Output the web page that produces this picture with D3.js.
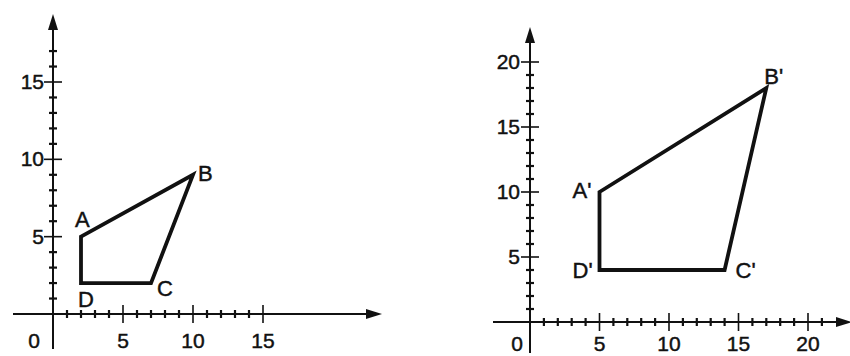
<!DOCTYPE html>
<html lang="en">
<head>
    <meta charset="UTF-8" />
    <title>Quadrilateral ABCD and its image A'B'C'D'</title>
    <script src="https://d3js.org/d3.v7.min.js"></script>
    <style>
        body { margin: 0; background: #fff; }
        svg { display: block; }
        text { font-family: "Liberation Sans", Arial, sans-serif; fill: #111; stroke: #111; stroke-width: 0.45; }
    </style>
</head>
<body>
<script>
    var w = 850;
    var h = 356;

    // Data: the original quadrilateral and its image
    var leftNames = ["A", "B", "C", "D"];
    var leftX = [2, 10, 7, 2];
    var leftY = [5, 9, 2, 2];

    var rightNames = ["A'", "B'", "C'", "D'"];
    var rightX = [5, 17, 14, 5];
    var rightY = [10, 18, 4, 4];

    // Tick labels
    var leftXTicks = [5, 10, 15];
    var leftYTicks = [5, 10, 15];
    var rightXTicks = [5, 10, 15, 20];
    var rightYTicks = [5, 10, 15, 20];

    var svg = d3.select("body")
        .append("svg")
        .attr("width", w)
        .attr("height", h);

    // Panel layout (pixels) and label offsets
    var panels = [
        {
            names: leftNames, xs: leftX, ys: leftY,
            xTicks: leftXTicks, yTicks: leftYTicks,
            xDomain: [0, 15], xRange: [53, 263],
            yDomain: [0, 15], yRange: [314, 82],
            xMinor: d3.range(1, 16), yMinor: d3.range(1, 18),
            axisLeft: 13, axisRight: 382, axisTop: 14, axisBottom: 349,
            zeroX: 34, tickBase: 348, yLabelX: 44,
            offsets: [[-6, -10], [5, 6], [6, 13], [-3, 24]]
        },
        {
            names: rightNames, xs: rightX, ys: rightY,
            xTicks: rightXTicks, yTicks: rightYTicks,
            xDomain: [0, 20], xRange: [530, 808],
            yDomain: [0, 20], yRange: [322, 62],
            xMinor: d3.range(1, 22), yMinor: d3.range(1, 21),
            axisLeft: 493, axisRight: 852, axisTop: 27, axisBottom: 353,
            zeroX: 517, tickBase: 351, yLabelX: 520,
            offsets: [[-27, 6], [-2, -4], [11, 8], [-27, 8]]
        }
    ];

    panels.forEach(function(p) {
        var x = d3.scaleLinear().domain(p.xDomain).range(p.xRange);
        var y = d3.scaleLinear().domain(p.yDomain).range(p.yRange);
        var g = svg.append("g");
        var x0 = x(0), y0 = y(0);

        // Axis lines
        g.append("line")
            .attr("x1", p.axisLeft).attr("x2", p.axisRight - 10)
            .attr("y1", y0).attr("y2", y0)
            .attr("stroke", "#111").attr("stroke-width", 2);
        g.append("line")
            .attr("x1", x0).attr("x2", x0)
            .attr("y1", p.axisBottom).attr("y2", p.axisTop + 10)
            .attr("stroke", "#111").attr("stroke-width", 2);

        // Arrow heads
        g.append("path")
            .attr("d", "M" + p.axisRight + "," + y0 + " L" + (p.axisRight - 16) + "," + (y0 - 5) +
                " L" + (p.axisRight - 16) + "," + (y0 + 5) + "Z")
            .attr("fill", "#111");
        g.append("path")
            .attr("d", "M" + x0 + "," + p.axisTop + " L" + (x0 - 5) + "," + (p.axisTop + 16) +
                " L" + (x0 + 5) + "," + (p.axisTop + 16) + "Z")
            .attr("fill", "#111");

        // Minor and major ticks on x
        g.selectAll(".xtick")
            .data(p.xMinor)
            .enter()
            .append("line")
            .attr("x1", function(d) { return x(d); })
            .attr("x2", function(d) { return x(d); })
            .attr("y1", function(d) { return y0 - (d % 5 === 0 ? 9 : 4); })
            .attr("y2", function(d) { return y0 + (d % 5 === 0 ? 9 : 4); })
            .attr("stroke", "#111")
            .attr("stroke-width", function(d) { return d % 5 === 0 ? 1.6 : 2.2; });

        // Minor and major ticks on y
        g.selectAll(".ytick")
            .data(p.yMinor)
            .enter()
            .append("line")
            .attr("y1", function(d) { return y(d); })
            .attr("y2", function(d) { return y(d); })
            .attr("x1", function(d) { return x0 - (d % 5 === 0 ? 9 : 4); })
            .attr("x2", function(d) { return x0 + (d % 5 === 0 ? 9 : 4); })
            .attr("stroke", "#111")
            .attr("stroke-width", function(d) { return d % 5 === 0 ? 1.6 : 2.2; });

        // Tick labels
        g.append("text")
            .attr("x", p.zeroX).attr("y", p.tickBase)
            .attr("text-anchor", "middle")
            .attr("font-size", 21)
            .text("0");

        g.selectAll(".xlab")
            .data(p.xTicks)
            .enter()
            .append("text")
            .attr("x", function(d) { return x(d); })
            .attr("y", p.tickBase)
            .attr("text-anchor", "middle")
            .attr("font-size", 21)
            .text(function(d) { return d; });

        g.selectAll(".ylab")
            .data(p.yTicks)
            .enter()
            .append("text")
            .attr("x", p.yLabelX)
            .attr("y", function(d) { return y(d) + 7; })
            .attr("text-anchor", "end")
            .attr("font-size", 21)
            .text(function(d) { return d; });

        // The quadrilateral
        var pts = p.xs.map(function(d, i) { return [x(d), y(p.ys[i])]; });
        g.append("path")
            .attr("d", d3.line()(pts) + "Z")
            .attr("fill", "none")
            .attr("stroke", "#111")
            .attr("stroke-width", 3.8)
            .attr("stroke-linejoin", "miter");

        // Vertex labels
        g.selectAll(".vlab")
            .data(p.names)
            .enter()
            .append("text")
            .attr("x", function(d, i) { return pts[i][0] + p.offsets[i][0]; })
            .attr("y", function(d, i) { return pts[i][1] + p.offsets[i][1]; })
            .attr("font-size", 22)
            .text(function(d) { return d; });
    });
</script>
</body>
</html>
